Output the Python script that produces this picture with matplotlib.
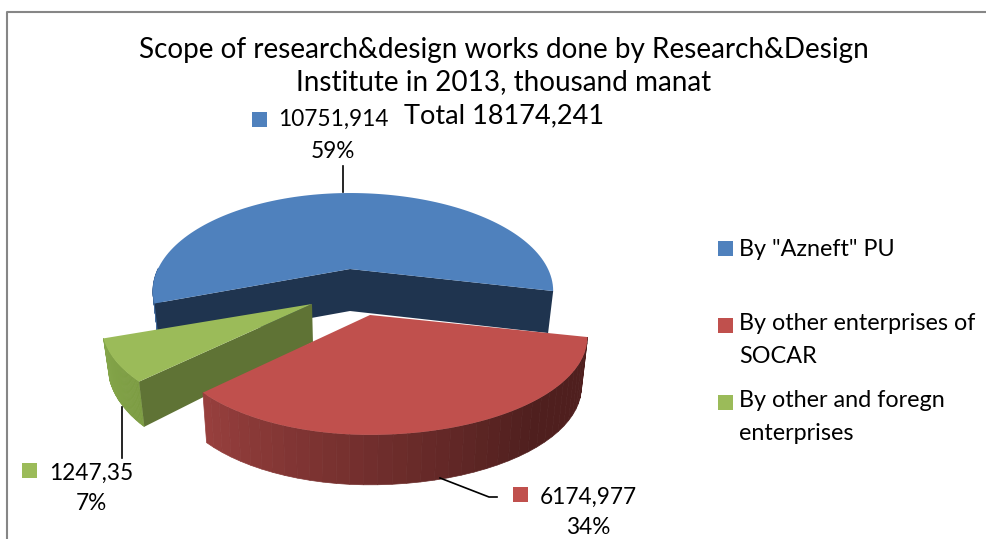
#!/usr/bin/env python3

import numpy as np
import matplotlib
matplotlib.use('Agg')
import matplotlib.pyplot as plt
from matplotlib.colors import to_rgb

title = 'Scope of research&design works done by Research&Design\nInstitute in 2013, thousand manat'
names = ['By "Azneft" PU', 'By other enterprises of\nSOCAR', 'By other and foregn\nenterprises']
values = [10751.914, 6174.977, 1247.35]
value_text = ['10751,914', '6174,977', '1247,35']
colors = ['#4f81bd', '#c0504d', '#9bbb59']

plt.rcParams['font.family'] = ['Lato', 'DejaVu Sans']

# view of the 3d pie, all in pixels of the picture
start = np.radians(13)      # first slice starts this far below east
R = 198
RT = 93
K = 0.224
apex = [(350, 269), (370, 315), (312, 304)]
height = [42, 50, 38]
grow = [0, 0, 1]
right_scale = [1.0, 1.07, 1.0]
left_scale = [0.97, 1.0, 1.035]


def project(i, a, h=0):
    # a is measured clockwise from east on the disk
    u, v = np.cos(a), np.sin(a)
    p = 1 / (1 - K * v)
    s = right_scale[i] if u > 0 else left_scale[i]
    x = apex[i][0] + R * u * p * s
    y = apex[i][1] + RT * v * p
    if h:
        x = x + (350 - x) * 0.025
        y = y + height[i] * (p if grow[i] else 1)
    return x, y


def mix(c1, c2, t):
    c1, c2 = np.array(to_rgb(c1)), np.array(to_rgb(c2))
    return tuple(c1 + (c2 - c1) * t)


def rim(ax, i, a0, a1, c0, c1, z, stop=1.0):
    # a0 and a1 are the ends of the visible outside wall
    angs = np.linspace(a0, a1, 40)
    for n in range(len(angs) - 1):
        pts = [project(i, angs[n]), project(i, angs[n + 1]),
               project(i, angs[n + 1], 1), project(i, angs[n], 1)]
        t = min(1, n / (len(angs) - 2) / stop)
        ax.fill(*zip(*pts), color=mix(c0, c1, t), lw=0.5, zorder=z)


def wall(ax, i, a, c, z):
    x0, y0 = apex[i]
    base = (x0 + (350 - x0) * 0.025, y0 + height[i])
    pts = [(x0, y0), project(i, a), project(i, a, 1), base]
    ax.fill(*zip(*pts), color=c, lw=0, zorder=z)


def top(ax, i, a0, a1, z):
    angs = np.linspace(a0, a1, 120)
    pts = [apex[i]] + [project(i, a) for a in angs]
    ax.fill(*zip(*pts), color=colors[i], lw=0, zorder=z)


fig = plt.figure(figsize=(9.87, 5.39), dpi=100)
ax = fig.add_axes([0, 0, 1, 1])
ax.set_xlim(0, 987)
ax.set_ylim(539, 0)
ax.axis('off')

# slices run anticlockwise from the start for the first one, then clockwise
spans = 2 * np.pi * np.array(values) / sum(values)
blue = (start - spans[0], start)
red = (start, start + spans[1])
green = (red[1], red[1] + spans[2])

# blue
rim(ax, 0, blue[0], blue[0] + 0.36, '#41699c', '#41699c', 0.5)
wall(ax, 0, blue[0], '#1f344f', 1)
wall(ax, 0, blue[1], '#1f344f', 1)
top(ax, 0, blue[0], blue[1], 2)

# green
rim(ax, 2, green[0], green[1], '#7c9c42', '#84a54a', 3)
wall(ax, 2, green[0], '#5f7335', 4)
top(ax, 2, green[0], green[1], 5)

# red
rim(ax, 1, red[1], red[0], '#973f3d', '#4f1f1e', 6, stop=0.7)
top(ax, 1, red[0], red[1], 7)

# frame
ax.plot([7, 7, 987], [539, 12, 12], color='#868686', lw=1.5, zorder=0)

# title
ax.text(504, 66, title, ha='center', va='center', fontsize=20.1, linespacing=1.28)
ax.text(504, 116, 'Total ' + ('%.3f' % sum(values)).replace('.', ','), ha='center', va='center', fontsize=19.5)

# leader lines
ax.plot([343, 343], [166, 192], color='black', lw=1.2, zorder=8)
ax.plot([122, 122], [407, 458], color='black', lw=1.2, zorder=8)
ax.plot([440, 489, 497], [478, 497, 497], color='black', lw=1.2, zorder=8)

# data labels
percents = ['%d%%' % round(100 * v / sum(values)) for v in values]
key_xy = [(252, 112), (513, 487), (22, 463)]
text_xy = [(333, 119), (588, 497), (91, 473)]
pct_y = [151, 527, 504]
for i in range(3):
    ax.fill_between([key_xy[i][0], key_xy[i][0] + 14.5], key_xy[i][1], key_xy[i][1] + 14.5, color=colors[i], lw=0)
    ax.text(text_xy[i][0], text_xy[i][1], value_text[i], ha='center', va='center', fontsize=16.3)
    ax.text(text_xy[i][0], pct_y[i], percents[i], ha='center', va='center', fontsize=16.3)

# legend
leg_y = [241, 318, 395]
leg_text_y = [249, 340, 417]
for i in range(3):
    ax.fill_between([718, 733], leg_y[i], leg_y[i] + 14.5, color=colors[i], lw=0)
    ax.text(739, leg_text_y[i], names[i], ha='left', va='center', fontsize=16.8, linespacing=1.68)

plt.savefig('out.png', dpi=100)
